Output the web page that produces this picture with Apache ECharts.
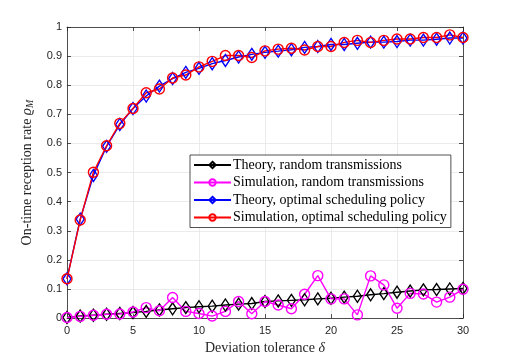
<!DOCTYPE html>
<html>
<head>
<meta charset="utf-8">
<script src="https://cdn.jsdelivr.net/npm/echarts@6/dist/echarts.min.js"></script>
<style>
  html, body { margin: 0; padding: 0; background: #fff; }
  #chart { width: 512px; height: 360px; }
</style>
</head>
<body>
<div id="chart"></div>
<script>
// deviation tolerance 0..30
const deltas = [0, 1, 2, 3, 4, 5, 6, 7, 8, 9, 10, 11, 12, 13, 14, 15, 16, 17, 18, 19, 20, 21, 22, 23, 24, 25, 26, 27, 28, 29, 30]

const theoryRandom = [0.002, 0.007, 0.010, 0.013, 0.016, 0.019, 0.023, 0.028, 0.032, 0.036, 0.039, 0.041, 0.045, 0.048, 0.050, 0.057,
  0.059, 0.061, 0.063, 0.066, 0.068, 0.072, 0.075, 0.080, 0.084, 0.089, 0.093, 0.097, 0.098, 0.100, 0.102]
const simRandom = [0.002, 0.006, 0.010, 0.013, 0.014, 0.021, 0.036, 0.025, 0.071, 0.023, 0.016, 0.007, 0.023, 0.057, 0.015, 0.057,
  0.045, 0.032, 0.082, 0.146, 0.066, 0.066, 0.011, 0.145, 0.114, 0.034, 0.085, 0.083, 0.055, 0.072, 0.099]
const theoryOptimal = [0.135, 0.340, 0.490, 0.590, 0.665, 0.720, 0.763, 0.797, 0.823, 0.844, 0.858, 0.874, 0.885, 0.897, 0.906, 0.913,
  0.917, 0.922, 0.930, 0.933, 0.940, 0.940, 0.944, 0.948, 0.948, 0.950, 0.955, 0.955, 0.958, 0.962, 0.962]
const simOptimal = [0.135, 0.337, 0.501, 0.592, 0.669, 0.720, 0.774, 0.787, 0.825, 0.835, 0.863, 0.882, 0.902, 0.902, 0.895, 0.918,
  0.924, 0.927, 0.921, 0.933, 0.933, 0.947, 0.954, 0.947, 0.954, 0.959, 0.959, 0.964, 0.964, 0.973, 0.964]

const xTicks = [0, 5, 10, 15, 20, 25, 30]
const yTicks = [0, 0.1, 0.2, 0.3, 0.4, 0.5, 0.6, 0.7, 0.8, 0.9, 1]

const axisColor = '#262626'
const gridColor = '#e6e6e6'

const toPairs = vals => deltas.map((d, i) => [d, vals[i]])

const makeSeries = (name, vals, color, symbol, size) => ({
  name,
  type: 'line',
  data: toPairs(vals),
  symbol,
  symbolSize: size,
  showAllSymbol: true,
  lineStyle: { color, width: 1.4 },
  itemStyle: { color: 'transparent', borderColor: color, borderWidth: 1.4 },
  emphasis: { disabled: true },
  animation: false
})

const chart = echarts.init(document.getElementById('chart'))

const boxAxisX = (pos, show) => ({
  type: 'value',
  position: pos,
  min: 0,
  max: 30,
  interval: 5,
  axisLine: { show: true, onZero: false, lineStyle: { color: axisColor, width: 0.8 } },
  axisTick: { show: true, inside: true, length: 4, lineStyle: { color: axisColor, width: 0.8 } },
  axisLabel: {
    show,
    margin: 7,
    color: axisColor,
    fontFamily: 'Liberation Sans, Arial, sans-serif',
    fontSize: 11,
    formatter: v => (xTicks.includes(v) ? String(v) : '')
  },
  splitLine: { show: show, lineStyle: { color: gridColor, width: 0.8 } }
})

const boxAxisY = (pos, show) => ({
  type: 'value',
  position: pos,
  min: 0,
  max: 1,
  interval: 0.1,
  axisLine: { show: true, onZero: false, lineStyle: { color: axisColor, width: 0.8 } },
  axisTick: { show: true, inside: true, length: 4, lineStyle: { color: axisColor, width: 0.8 } },
  axisLabel: {
    show,
    margin: 5,
    color: axisColor,
    fontFamily: 'Liberation Sans, Arial, sans-serif',
    fontSize: 11,
    formatter: v => {
      const t = yTicks.find(y => Math.abs(y - v) < 1e-9)
      return t === undefined ? '' : String(Math.round(t * 10) / 10)
    }
  },
  splitLine: { show: show, lineStyle: { color: gridColor, width: 0.8 } }
})

const xMain = boxAxisX('bottom', true)
xMain.name = '{a|Deviation tolerance }{i|δ}'
xMain.nameLocation = 'middle'
xMain.nameGap = 22
xMain.nameTextStyle = {
  rich: {
    a: { fontFamily: 'Liberation Serif, Times New Roman, serif', fontSize: 14, color: axisColor },
    i: { fontFamily: 'Liberation Serif, Times New Roman, serif', fontSize: 14, fontStyle: 'italic', color: axisColor }
  }
}

const yMain = boxAxisY('left', true)
yMain.name = '{a|On-time reception rate }{i|ϱ}{s|M}'
yMain.nameLocation = 'middle'
yMain.nameGap = 25
yMain.nameTextStyle = {
  rich: {
    a: { fontFamily: 'Liberation Serif, Times New Roman, serif', fontSize: 14, color: axisColor },
    i: { fontFamily: 'Liberation Serif, Times New Roman, serif', fontSize: 14, fontStyle: 'italic', color: axisColor },
    s: { fontFamily: 'Liberation Serif, Times New Roman, serif', fontSize: 10, fontStyle: 'italic', color: axisColor, padding: [6, 0, 0, 0] }
  }
}

const options = {
  animation: false,
  backgroundColor: '#fff',
  grid: { left: 67, right: 49, top: 27, bottom: 40, containLabel: false },
  legend: {
    orient: 'vertical',
    left: 190,
    top: 155,
    padding: [3, 4, 3, 3],
    itemWidth: 37,
    itemHeight: 8,
    itemGap: 3.5,
    backgroundColor: '#fff',
    borderColor: axisColor,
    borderWidth: 0.8,
    borderRadius: 0,
    textStyle: {
      fontFamily: 'Liberation Serif, Times New Roman, serif',
      fontSize: 14,
      color: '#000',
      lineHeight: 14,
      padding: [0, 0, 0, -3]
    },
    data: [
      'Theory, random transmissions',
      'Simulation, random transmissions',
      'Theory, optimal scheduling policy',
      'Simulation, optimal scheduling policy'
    ]
  },
  xAxis: [xMain, boxAxisX('top', false)],
  yAxis: [yMain, boxAxisY('right', false)],
  series: [
    makeSeries('Theory, random transmissions', theoryRandom, '#000000', 'diamond', [8, 12]),
    makeSeries('Simulation, random transmissions', simRandom, '#ff00ff', 'circle', 10),
    makeSeries('Theory, optimal scheduling policy', theoryOptimal, '#0000ff', 'diamond', [8, 12]),
    makeSeries('Simulation, optimal scheduling policy', simOptimal, '#ff0000', 'circle', 10)
  ]
}

chart.setOption(options)
</script>
</body>
</html>
